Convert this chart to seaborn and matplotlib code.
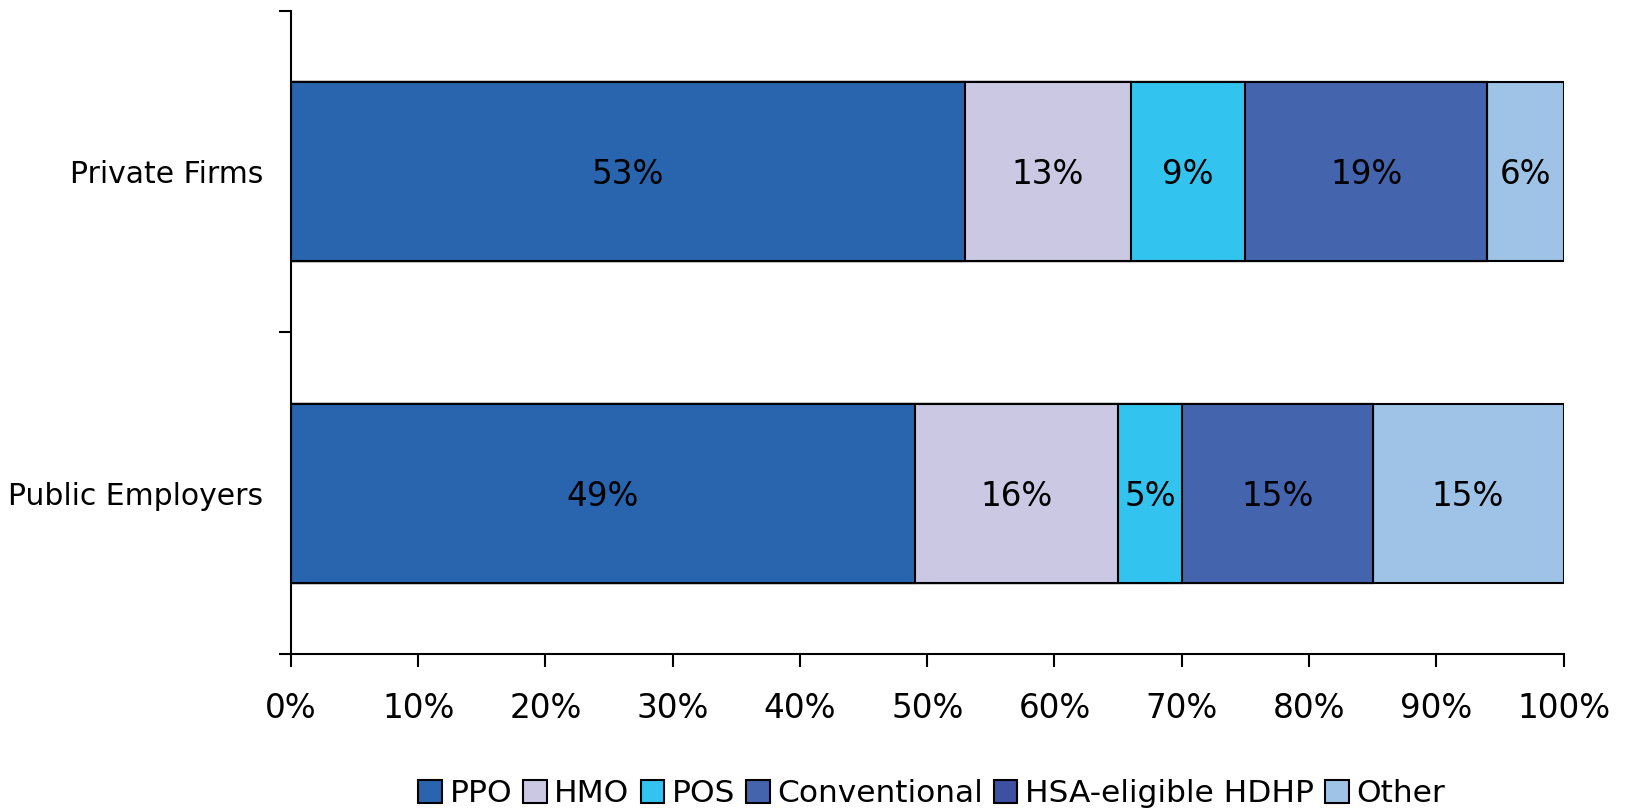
import matplotlib
matplotlib.use("Agg")
import matplotlib.pyplot as plt
import seaborn as sns
import pandas as pd
from matplotlib.patches import Patch

categories = ["Private Firms", "Public Employers"]
series_names = ["PPO", "HMO", "POS", "Conventional", "HSA-eligible HDHP", "Other"]
ppo = [53, 49]
hmo = [13, 16]
pos = [9, 5]
conventional = [19, 15]
hdhp = [0, 0]
other = [6, 15]
colors = ["#2964AE", "#CAC8E3", "#33C3EF", "#4464AE", "#3D50A2", "#9EC3E7"]
xticks = [0, 10, 20, 30, 40, 50, 60, 70, 80, 90, 100]

sns.set_theme(style="white")
plt.rcParams['font.family'] = ['DejaVu Sans']

values = [ppo, hmo, pos, conventional, hdhp, other]
df = pd.DataFrame({name: vals for name, vals in zip(series_names, values)}, index=categories)
cum = df.cumsum(axis=1)

fig = plt.figure(figsize=(16.29, 8.09), dpi=100)
ax = fig.add_axes([0.1786, 0.191, 0.7812, 0.796])

for i in range(len(series_names) - 1, -1, -1):
    name = series_names[i]
    d = pd.DataFrame({"cat": categories, "val": cum[name].values})
    sns.barplot(data=d, x="val", y="cat", orient="h", color=colors[i], saturation=1,
                width=0.553, edgecolor="black", linewidth=1.5, ax=ax, zorder=2)

for j, cat in enumerate(categories):
    for i, name in enumerate(series_names):
        v = df.loc[cat, name]
        if v > 0:
            c = cum.loc[cat, name] - v / 2
            ax.text(c, j + 0.01, f"{v}%", ha="center", va="center", fontsize=23.5, color="black", zorder=5)

ax.set_xlim(0, 100)
ax.set_ylim(1.5, -0.5)
ax.set_xticks(xticks)
ax.set_xticklabels([f"{t}%" for t in xticks], fontsize=23.5, color="black")
ax.set_yticks(range(len(categories)))
ax.set_yticklabels(categories, fontsize=21.5, color="black")
ax.set_yticks([-0.5, 0.5, 1.5], minor=True)
ax.tick_params(axis="y", which="major", length=0, pad=20)
ax.tick_params(axis="y", which="minor", left=True, length=9, width=1.5, color="black")
ax.tick_params(axis="x", which="major", bottom=True, length=9, width=1.5, color="black", pad=18)
ax.set_xlabel("")
ax.set_ylabel("")
for s in ["top", "right"]:
    ax.spines[s].set_visible(False)
for s in ["left", "bottom"]:
    ax.spines[s].set_color("black")
    ax.spines[s].set_linewidth(1.5)
ax.grid(False)

handles = [Patch(facecolor=c, edgecolor="black", linewidth=1.5, label=n) for c, n in zip(colors, series_names)]
fig.legend(handles=handles, loc="center", bbox_to_anchor=(0.572, 0.019), ncol=6, frameon=False,
           fontsize=22.5, handlelength=0.75, handleheight=0.75, handletextpad=0.25, columnspacing=0.35,
           borderpad=0, labelcolor="black")

fig.savefig("out.png", dpi=100)
